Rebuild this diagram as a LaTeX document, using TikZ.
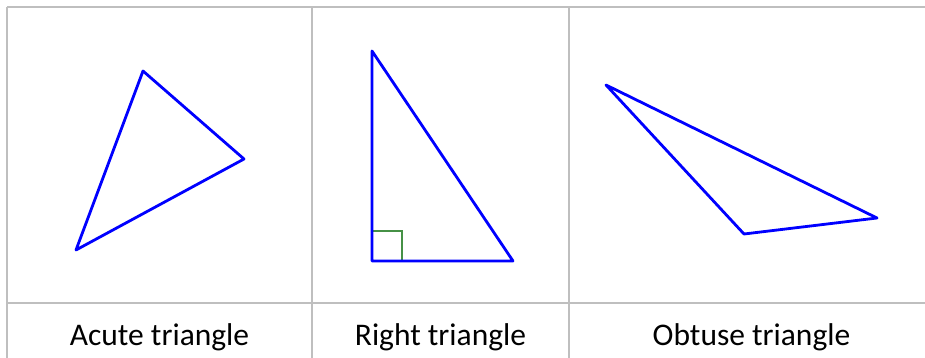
\documentclass[tikz,border=0pt]{standalone}
\usepackage{fontspec}
\setmainfont{Carlito}
\definecolor{gridgray}{RGB}{191,191,191}
\definecolor{markgreen}{RGB}{70,145,70}
\begin{document}
\begin{tikzpicture}[x=1pt, y=-1pt,
    every node/.style={font=\fontsize{31.5}{36}\selectfont, anchor=base, inner sep=0pt},
    grid/.style={gridgray, line width=2pt},
    tri/.style={blue, line width=2.8pt, line join=round}]
  \useasboundingbox (0,0) rectangle (925,358);
  % table rules
  \draw[grid] (7,7) -- (925,7);
  \draw[grid] (7,303) -- (925,303);
  \draw[grid] (7,7) -- (7,358);
  \draw[grid] (312,7) -- (312,358);
  \draw[grid] (569,7) -- (569,358);
  % acute
  \coordinate (A0) at (143,71); \coordinate (A1) at (244,159); \coordinate (A2) at (76,250);
  \draw[tri] (A0) -- (A1) -- (A2) -- cycle;
  % right
  \coordinate (R0) at (372,51); \coordinate (R1) at (372,261); \coordinate (R2) at (513,261);
  \draw[markgreen, line width=1.4pt] (R1) ++(0,-30) -| ++(30,30);
  \draw[tri] (R0) -- (R1) -- (R2) -- cycle;
  % obtuse
  \coordinate (O0) at (606,85); \coordinate (O1) at (877,218); \coordinate (O2) at (744,234);
  \draw[tri] (O0) -- (O1) -- (O2) -- cycle;
  \node (LA) at (159.5,345) {Acute triangle};
  \node (LR) at (440.5,345) {Right triangle};
  \node (LO) at (751.5,345) {Obtuse triangle};
\end{tikzpicture}
\end{document}
